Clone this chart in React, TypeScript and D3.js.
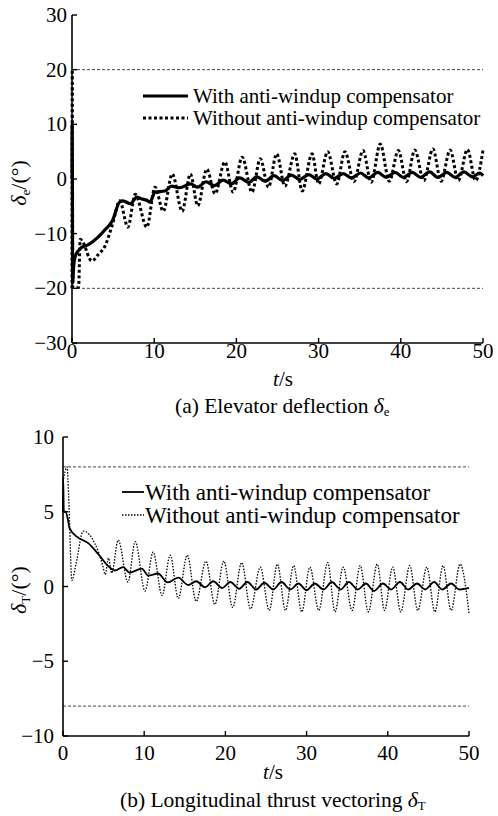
import React from "react";
import * as d3 from "d3";

// ---------- Data ----------
const xTicks = [0, 10, 20, 30, 40, 50];
const yTicksA = [-30, -20, -10, 0, 10, 20, 30];
const yTicksB = [-10, -5, 0, 5, 10];
const limitsA = [20, -20];
const limitsB = [8, -8];
const legendLabels = ["With anti-windup compensator", "Without anti-windup compensator"];

// (a) elevator deflection, with anti-windup  [t, deg]
const elevWith: [number, number][] = [
  [0, 0], [0.02, 10], [0.08, -19], [0.2, -16], [0.4, -14.1], [1.2, -12.5], [2, -12], [3.2, -10.6],
  [4, -9.3], [4.9, -7.7], [5.8, -4.2], [6.2, -4], [7.1, -4.5], [7.9, -3.3], [8.4, -3.6], [9.1, -3.9],
  [9.5, -4.2], [10.1, -2.4], [11.3, -2.2], [12.1, -1.3], [13.1, -1.6], [14.4, -0.9], [15.3, -1.5],
  [16.3, -0.5], [17.3, -1.2], [18.4, -0.2], [19.4, -0.9], [20.4, 0.2], [21.5, -0.6], [22.5, 0.4],
  [23.5, -0.4], [24.6, 0.6], [25.6, -0.3], [26.7, 0.7], [27.7, -0.1], [28.8, 0.8], [29.8, 0.0],
  [30.9, 1.0], [31.9, 0.1], [33, 1.0], [34, 0.2], [35.1, 1.1], [36.1, 0.2], [37.2, 1.2], [38.2, 0.3],
  [39.3, 1.2], [40.3, 0.3], [41.4, 1.2], [42.4, 0.3], [43.5, 1.3], [44.5, 0.3], [45.6, 1.2],
  [46.6, 0.3], [47.7, 1.3], [48.7, 0.4], [49.6, 1.1], [50, 0.6],
];

// (a) elevator deflection, without anti-windup
const elevWithout: [number, number][] = [
  [0, -20], [0.03, 20], [0.1, -19.8], [0.8, -19.8], [1.0, -11], [1.3, -11.5], [2.4, -15], [3.2, -13.8],
  [4, -12.3], [5, -7.9], [5.8, -4], [6.8, -8.8], [7.7, -2.8], [9.1, -8.8], [10.1, -1.5], [11.1, -5.9],
  [12.2, 0.9], [13.4, -5.9], [14.4, 0.9], [15.3, -4.9], [16.4, 1.8], [17.4, -2.7], [18.6, 3.1],
  [19.6, -2.4], [20.7, 4], [21.9, -2.4], [22.9, 3.7], [23.9, -1.5], [24.9, 4.6], [25.9, -1.3],
  [27.1, 4.6], [28, -2.2], [29.2, 4.6], [30, -0.9], [31.1, 5], [32.2, -0.9], [33.2, 5], [34.3, -0.5],
  [35.4, 5.2], [36.4, -0.6], [37.5, 6.4], [38.6, -0.4], [39.7, 5.2], [40.7, -0.5], [41.7, 5.3],
  [42.8, -0.3], [43.9, 5.5], [44.9, -0.4], [46, 5.3], [47, -0.3], [48.1, 5.4], [49.1, -0.3], [50, 5.3],
];

// (b) thrust vectoring, with anti-windup
const thrustWith: [number, number][] = [
  [0, 5], [0.02, 7.3], [0.1, 5.0], [0.3, 5.0], [0.6, 4.5], [0.8, 3.9], [1.8, 3.3], [3.1, 2.9],
  [4.3, 2.2], [5.5, 1.4], [6.4, 1.07], [7.4, 1.3], [8.2, 0.93], [9.7, 1.2], [10.5, 0.73], [11.7, 0.87],
  [12.9, 0.27], [14.2, 0.6], [15.4, 0.1], [16.4, 0.35], [17.5, -0.05], [18.5, 0.35], [19.6, -0.1],
  [20.6, 0.3], [21.7, -0.15], [22.7, 0.3], [23.8, -0.2], [24.8, 0.25], [25.9, -0.2], [26.9, 0.3],
  [28, -0.2], [29, 0.2], [30, -0.25], [31, 0.2], [32.1, -0.2], [33.1, 0.3], [34.2, -0.2], [35.2, 0.3],
  [36.3, -0.2], [37.3, 0.2], [38.3, -0.3], [39.4, 0.2], [40.4, -0.2], [41.5, 0.3], [42.5, -0.2],
  [43.6, 0.2], [44.6, -0.2], [45.7, 0.3], [46.7, -0.2], [47.8, 0.2], [48.8, -0.2], [50, -0.1],
];

// (b) thrust vectoring, without anti-windup
const thrustWithout: [number, number][] = [
  [0, 7], [0.5, 8], [0.7, 6], [1.1, 0.4], [1.6, 1.5], [2.5, 3.7], [3.9, 2.9], [4.9, 1.4], [5.2, 0.8],
  [5.6, 1.9], [6.0, 0.9], [6.8, 3.1], [8.0, 0.3], [8.9, 3.0], [10.1, -0.3], [11.1, 2.3], [12.2, -0.6],
  [13.2, 2.1], [14.2, -0.8], [15.3, 2.1], [16.4, -1.0], [17.6, 1.7], [18.7, -1.2], [19.8, 1.7],
  [20.9, -1.4], [22.0, 1.6], [23.1, -1.5], [24.3, 1.3], [25.4, -1.6], [26.4, 1.5], [27.4, -1.6],
  [28.4, 1.4], [29.4, -1.7], [30.4, 1.3], [31.5, -1.6], [32.6, 1.6], [33.5, -1.7], [34.5, 1.3],
  [35.6, -1.6], [36.6, 1.4], [37.6, -1.7], [38.7, 1.5], [39.6, -1.6], [40.6, 1.3], [41.6, -1.7],
  [42.7, 1.4], [43.7, -1.6], [44.8, 1.3], [45.8, -1.7], [46.8, 1.4], [47.8, -1.6], [48.9, 1.5],
  [50, -1.8],
];

// ---------- Chart ----------
const FONT = "Liberation Serif";

type PanelProps = {
  x0: number; x1: number; yTop: number; yBot: number;
  yDomain: [number, number]; yTicks: number[]; limits: number[];
  withData: [number, number][]; withoutData: [number, number][];
  solidW: number; dotW: number; dotDash: string;
  legendX: number; legendY: number; legendLen: number; legendFont: number; legendGap: number; legendTextX: number;
  labelX: number; labelY: number; labelFont: number; sub: string; tickFont: number; yTickGap: number; xTickBase: number;
  xLabelX: number; xLabelY: number; captionY: number; captionX: number; captionFont: number;
  captionPrefix: string; captionSub: string;
};

function Panel(p: PanelProps) {
  const x = d3.scaleLinear().domain([0, 50]).range([p.x0, p.x1]);
  const y = d3.scaleLinear().domain(p.yDomain).range([p.yBot, p.yTop]);
  const line = d3.line<[number, number]>().x(d => x(d[0])).y(d => y(d[1])).curve(d3.curveMonotoneX);
  const tickLen = 5;
  const ts = { fontFamily: FONT };
  return (
    <g fill="#000">
      {p.limits.map(l => (
        <line key={l} x1={x(0)} x2={x(50)} y1={y(l)} y2={y(l)} stroke="#333" strokeWidth={0.9} strokeDasharray="3,2" />
      ))}
      <path d={line(p.withoutData) || ""} fill="none" stroke="#000" strokeWidth={p.dotW} strokeDasharray={p.dotDash} />
      <path d={line(p.withData) || ""} fill="none" stroke="#000" strokeWidth={p.solidW} strokeLinejoin="round" />
      {/* axes */}
      <line x1={p.x0} x2={p.x0} y1={p.yTop} y2={p.yBot} stroke="#000" strokeWidth={1.6} />
      <line x1={p.x0} x2={p.x1} y1={p.yBot} y2={p.yBot} stroke="#000" strokeWidth={1.6} />
      {p.yTicks.map(t => (
        <g key={"y" + t}>
          <line x1={p.x0} x2={p.x0 + tickLen} y1={y(t)} y2={y(t)} stroke="#000" strokeWidth={1.4} />
          <text style={ts} x={p.x0 - p.yTickGap} y={y(t)} dy="0.34em" textAnchor="end" fontSize={p.tickFont}>
            {t < 0 ? "\u2212" + Math.abs(t) : t}
          </text>
        </g>
      ))}
      {xTicks.map(t => (
        <g key={"x" + t}>
          <line x1={x(t)} x2={x(t)} y1={p.yBot} y2={p.yBot - tickLen} stroke="#000" strokeWidth={1.4} />
          <text style={ts} x={x(t)} y={p.yBot + p.xTickBase} textAnchor="middle" fontSize={p.tickFont}>{t}</text>
        </g>
      ))}
      <text style={ts} x={p.xLabelX} y={p.xLabelY} textAnchor="middle" fontSize={p.tickFont}>
        <tspan fontStyle="italic">t</tspan>/s
      </text>
      {/* y label */}
      <text style={ts} transform={`translate(${p.labelX},${p.labelY}) rotate(-90)`} textAnchor="middle" fontSize={p.labelFont}>
        <tspan fontStyle="italic">δ</tspan>
        <tspan fontSize={p.labelFont * 0.6} dy="4">{p.sub}</tspan>
        <tspan dy="-4">/(°)</tspan>
      </text>
      {/* legend */}
      <line x1={p.legendX} x2={p.legendX + p.legendLen} y1={p.legendY} y2={p.legendY} stroke="#000" strokeWidth={p.solidW} />
      <text style={ts} x={p.legendTextX} y={p.legendY} dy="0.33em" fontSize={p.legendFont}>{legendLabels[0]}</text>
      <line x1={p.legendX} x2={p.legendX + p.legendLen} y1={p.legendY + p.legendGap} y2={p.legendY + p.legendGap} stroke="#000" strokeWidth={p.dotW} strokeDasharray={p.dotDash} />
      <text style={ts} x={p.legendTextX} y={p.legendY + p.legendGap} dy="0.33em" fontSize={p.legendFont}>{legendLabels[1]}</text>
      {/* caption */}
      <text style={ts} x={p.captionX} y={p.captionY} fontSize={p.captionFont}>
        {p.captionPrefix}
        <tspan fontStyle="italic">δ</tspan>
        <tspan fontSize={p.captionFont * 0.6} dy="3">{p.captionSub}</tspan>
      </text>
    </g>
  );
}

export default function App() {
  return (
    <svg width={498} height={816} style={{ position: "absolute", left: 0, top: 0, background: "#fff" }}>
      <rect width={498} height={816} fill="#fff" />
      <Panel
        x0={72} x1={483} yTop={15} yBot={343} yDomain={[-30, 30]} yTicks={yTicksA} limits={limitsA}
        withData={elevWith} withoutData={elevWithout} solidW={3.2} dotW={3} dotDash="3,2.5"
        legendX={143} legendY={96} legendLen={45} legendFont={21} legendGap={22} legendTextX={193}
        labelX={26} labelY={183} labelFont={22} sub="e" tickFont={21} yTickGap={5} xTickBase={15}
        xLabelX={283} xLabelY={386} captionY={413} captionX={175} captionFont={21.5}
        captionPrefix="(a) Elevator deflection " captionSub="e"
      />
      <Panel
        x0={63} x1={469} yTop={437} yBot={736} yDomain={[-10, 10]} yTicks={yTicksB} limits={limitsB}
        withData={thrustWith} withoutData={thrustWithout} solidW={1.8} dotW={1.3} dotDash="1.5,1.5"
        legendX={122} legendY={492} legendLen={22} legendFont={23} legendGap={23} legendTextX={145}
        labelX={26} labelY={590} labelFont={22} sub="T" tickFont={21} yTickGap={9} xTickBase={24}
        xLabelX={273} xLabelY={779} captionY={807} captionX={120} captionFont={21.5}
        captionPrefix="(b) Longitudinal thrust vectoring " captionSub="T"
      />
    </svg>
  );
}
